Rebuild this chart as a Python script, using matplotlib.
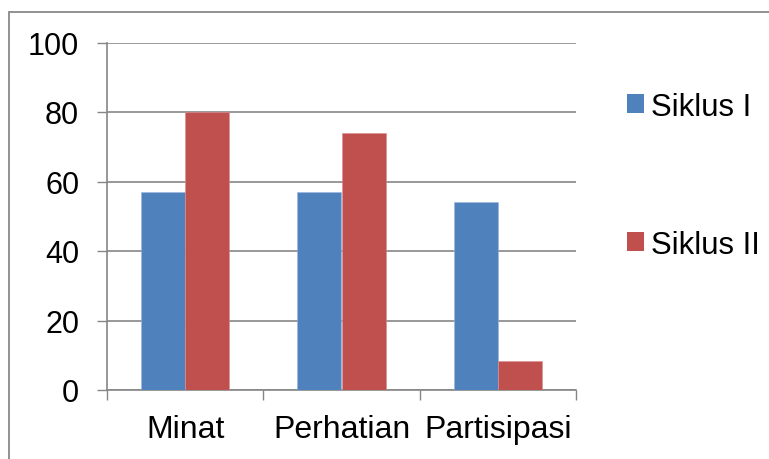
import matplotlib
matplotlib.use('Agg')
import matplotlib.pyplot as plt
import numpy as np
from matplotlib.patches import Rectangle

# Data
categories = ["Minat", "Perhatian", "Partisipasi"]
series_names = ["Siklus I", "Siklus II"]
siklus_1 = [57, 57, 54]
siklus_2 = [80, 74, 8.3]
y_ticks = [0, 20, 40, 60, 80, 100]

COLORS = ["#4F81BD", "#C0504D"]
GRID = "#868686"

plt.rcParams['font.family'] = ['Liberation Sans', 'DejaVu Sans']

fig = plt.figure(figsize=(7.69, 4.6), dpi=100)
ax = fig.add_axes([107 / 769, 1 - 391 / 460, (576 - 107) / 769, (391 - 43.5) / 460])

x = np.arange(len(categories))
w = 0.283
b1 = ax.bar(x - w / 2, siklus_1, width=w, color=COLORS[0], edgecolor="#9bb7dc",
            linewidth=0.4, label=series_names[0], zorder=3)
b2 = ax.bar(x + w / 2, siklus_2, width=w, color=COLORS[1], edgecolor="#dc8f8d",
            linewidth=0.4, label=series_names[1], zorder=3)

ax.set_xlim(-0.5, len(categories) - 0.5)
ax.set_ylim(0, 100)
ax.set_yticks(y_ticks)
ax.set_yticklabels([str(t) for t in y_ticks], fontsize=22)

# category labels between the boundary ticks
ax.set_xticks(np.arange(len(categories) + 1) - 0.5)
ax.set_xticklabels([])
ax.set_xticks(x, minor=True)
ax.set_xticklabels(categories, minor=True, fontsize=23)
ax.tick_params(axis='x', which='minor', length=0, pad=17)
ax.tick_params(axis='x', which='major', length=7, width=1, color=GRID, direction='out')
ax.tick_params(axis='y', length=7, width=1, color=GRID, direction='out', pad=13)

ax.yaxis.grid(True, color=GRID, linewidth=1.2, zorder=0)
ax.set_axisbelow(True)
for side in ['top', 'right']:
    ax.spines[side].set_visible(False)
for side in ['left', 'bottom']:
    ax.spines[side].set_color(GRID)
    ax.spines[side].set_linewidth(1.2)

leg = fig.legend(handles=[b1, b2], loc='upper left',
                 bbox_to_anchor=(611 / 769, 1 - 77 / 460),
                 frameon=False, fontsize=22.4, borderpad=0,
                 handlelength=0.55, handleheight=0.55, handletextpad=0.22,
                 labelspacing=3.47)
for h in leg.legend_handles:
    h.set_edgecolor('none')

# outer chart border
fig.patches.append(Rectangle((9 / 769, -0.1), 1.1, 1 - 13 / 460 + 0.1,
                             transform=fig.transFigure, fill=False,
                             edgecolor="#898989", linewidth=1.3))

plt.savefig("out.png", dpi=100, facecolor='white')
